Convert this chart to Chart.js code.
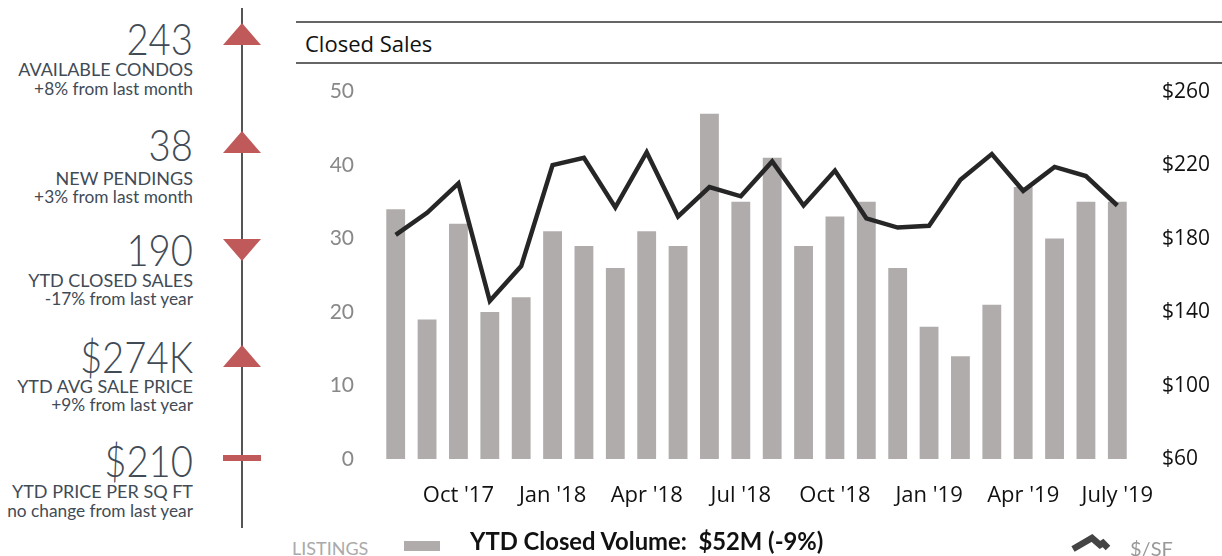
<!DOCTYPE html>
<html>
<head>
<meta charset="utf-8">
<script src="https://cdn.jsdelivr.net/npm/chart.js@4"></script>
<style>
  body { margin: 0; background: #fff; width: 1222px; height: 556px; position: relative; overflow: hidden; font-family: Lato, sans-serif; }
  .t { position: absolute; left: 0; width: 193px; text-align: right; color: #414b56; white-space: nowrap; }
  .big { font-size: 43px; font-weight: 300; line-height: 43px; transform: scaleX(0.89); transform-origin: right center; }
  .cap { font-size: 18px; line-height: 18px; }
  .sub { font-size: 17.3px; line-height: 17px; }
  #spine { position: absolute; left: 241px; top: 8px; width: 2px; height: 520px; background: #555; }
  .tri { position: absolute; left: 223px; width: 0; height: 0; border-left: 19px solid transparent; border-right: 19px solid transparent; }
  .up { border-bottom: 22px solid #c05a5a; }
  .down { border-top: 22px solid #c05a5a; }
  .dash { position: absolute; left: 223px; width: 38px; height: 6px; background: #c05a5a; }
  .rule { position: absolute; left: 296px; width: 926px; height: 2px; background: #666; }
  #title { position: absolute; left: 305px; top: 30px; font-family: "Open Sans", sans-serif; font-size: 22px; line-height: 26px; color: #111; }
  #wrap { position: absolute; left: 300px; top: 50px; width: 922px; height: 480px; }
  .leg { position: absolute; white-space: nowrap; }
</style>
</head>
<body>
<div id="spine"></div>

<div class="t big" style="top:17px">243</div>
<div class="t cap" style="top:60px">AVAILABLE CONDOS</div>
<div class="t sub" style="top:80px">+8% from last month</div>
<div class="tri up" style="top:23px"></div>

<div class="t big" style="top:123px">38</div>
<div class="t cap" style="top:169px">NEW PENDINGS</div>
<div class="t sub" style="top:188px">+3% from last month</div>
<div class="tri up" style="top:131px"></div>

<div class="t big" style="top:228px">190</div>
<div class="t cap" style="top:271px">YTD CLOSED SALES</div>
<div class="t sub" style="top:290px">-17% from last year</div>
<div class="tri down" style="top:239px"></div>

<div class="t big" style="top:335px">$274K</div>
<div class="t cap" style="top:377px">YTD AVG SALE PRICE</div>
<div class="t sub" style="top:396px">+9% from last year</div>
<div class="tri up" style="top:345px"></div>

<div class="t big" style="top:439px">$210</div>
<div class="t cap" style="top:482px">YTD PRICE PER SQ FT</div>
<div class="t sub" style="top:502px">no change from last year</div>
<div class="dash" style="top:455px"></div>

<div class="rule" style="top:21px"></div>
<div id="title">Closed Sales</div>
<div class="rule" style="top:62px"></div>

<div id="wrap"><canvas id="closedChart"></canvas></div>

<div class="leg" style="left:292px; top:537px; font-size:18px; color:#aaa; font-family:Lato, sans-serif;">LISTINGS</div>
<div class="leg" style="left:404px; top:541px; width:36px; height:10px; background:#b0acab;"></div>
<div class="leg" style="left:470px; top:527px; font-size:23.8px; font-weight:bold; color:#111; font-family:Lato, sans-serif;">YTD Closed Volume:&nbsp; $52M (-9%)</div>
<svg class="leg" style="left:1068px; top:532px;" width="44" height="22">
  <polyline points="5,17 24,6 32,13 35,11 40,16" fill="none" stroke="#444" stroke-width="6.5" />
</svg>
<div class="leg" style="left:1130px; top:536px; font-size:20px; color:#999; font-family:Lato, sans-serif;">$/SF</div>

<script>
// Aug '17 .. Jul '19
const months = ["Aug '17", "Sep '17", "Oct '17", "Nov '17", "Dec '17", "Jan '18", "Feb '18", "Mar '18",
    "Apr '18", "May '18", "Jun '18", "Jul '18", "Aug '18", "Sep '18", "Oct '18", "Nov '18",
    "Dec '18", "Jan '19", "Feb '19", "Mar '19", "Apr '19", "May '19", "Jun '19", "Jul '19"];
const tickLabels = ['', '', "Oct '17", '', '', "Jan '18", '', '', "Apr '18", '', '', "Jul '18",
    '', '', "Oct '18", '', '', "Jan '19", '', '', "Apr '19", '', '', "July '19"];
const listings = [34, 19, 32, 20, 22, 31, 29, 26, 31, 29, 47, 35, 41, 29, 33, 35, 26, 18, 14, 21, 37, 30, 35, 35];
const pricePerSf = [182, 194, 210, 146, 165, 220, 224, 197, 227, 192, 208, 203, 222, 198, 217, 191, 186, 187, 212, 226, 206, 219, 214, 198];
const listingTicks = [0, 50, 10];   // min, max, step
const priceTicks = [60, 260, 40];

const ctx = document.getElementById('closedChart').getContext('2d');

new Chart(ctx, {
    type: 'bar',
    data: {
        labels: months,
        datasets: [
            {
                type: 'line',
                label: '$/SF',
                data: pricePerSf,
                yAxisID: 'y1',
                borderColor: '#262626',
                borderWidth: 4.5,
                pointRadius: 0,
                tension: 0,
                order: 1
            },
            {
                label: 'Listings',
                data: listings,
                yAxisID: 'y',
                backgroundColor: '#b0acab',
                barPercentage: 0.6,
                categoryPercentage: 1,
                order: 2
            }
        ]
    },
    options: {
        responsive: true,
        maintainAspectRatio: false,
        animation: false,
        layout: { padding: { top: 0, left: 0, right: 0, bottom: 0 } },
        plugins: {
            legend: { display: false },
            tooltip: { enabled: false }
        },
        scales: {
            x: {
                grid: { display: false, drawTicks: false },
                border: { display: false },
                afterFit: (s) => { s.height = 71; },
                ticks: {
                    autoSkip: false,
                    maxRotation: 0,
                    padding: 24,
                    color: '#111',
                    font: { family: 'Open Sans', size: 22 },
                    callback: (v, i) => tickLabels[i]
                }
            },
            y: {
                position: 'left',
                min: listingTicks[0],
                max: listingTicks[1],
                grid: { display: false, drawTicks: false },
                border: { display: false },
                afterFit: (s) => { s.width = 80; },
                ticks: {
                    stepSize: listingTicks[2],
                    padding: 26,
                    color: '#888',
                    font: { family: 'Lato', size: 21 }
                }
            },
            y1: {
                position: 'right',
                min: priceTicks[0],
                max: priceTicks[1],
                grid: { display: false, drawTicks: false },
                border: { display: false },
                afterFit: (s) => { s.width = 89; },
                ticks: {
                    stepSize: priceTicks[2],
                    padding: 29,
                    color: '#111',
                    font: { family: 'Open Sans', size: 21 },
                    callback: (v) => '$' + v
                }
            }
        }
    }
});
</script>
</body>
</html>
